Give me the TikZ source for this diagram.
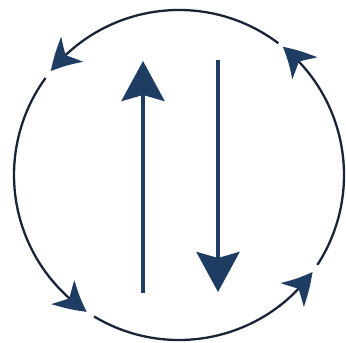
\documentclass[tikz,border=0pt]{standalone}
\usetikzlibrary{arrows.meta,bending}
\definecolor{navy}{HTML}{1F3D63}
\definecolor{rim}{HTML}{1A2436}
\tikzset{
  x=1pt,y=1pt,
  ring/.style={draw=rim,line width=2.3pt,
    -{Stealth[length=31pt,width=33pt,inset=9pt,color=navy,fill=navy,bend]}},
  bigarrow/.style={draw=navy,line width=4pt,
    -{Stealth[length=40pt,width=43pt,inset=6pt,fill=navy]}}
}
\begin{document}
\begin{tikzpicture}
\useasboundingbox (0,0) rectangle (346,343);
\fill[white] (0,0) rectangle (346,343);
\coordinate (c) at (179,168);
\def\R{165}
\draw[ring] ([shift={(53:\R)}]c) arc[start angle=53,end angle=141,radius=\R];
\draw[ring] ([shift={(144:\R)}]c) arc[start angle=144,end angle=236,radius=\R];
\draw[ring] ([shift={(239:\R)}]c) arc[start angle=239,end angle=324,radius=\R];
\draw[ring] ([shift={(327:\R)}]c) arc[start angle=327,end angle=411,radius=\R];
\coordinate (ua) at (143,50);
\coordinate (ub) at (143,282);
\coordinate (da) at (218,283);
\coordinate (db) at (218,51);
\draw[bigarrow] (ua) -- (ub);
\draw[bigarrow] (da) -- (db);
\end{tikzpicture}
\end{document}
